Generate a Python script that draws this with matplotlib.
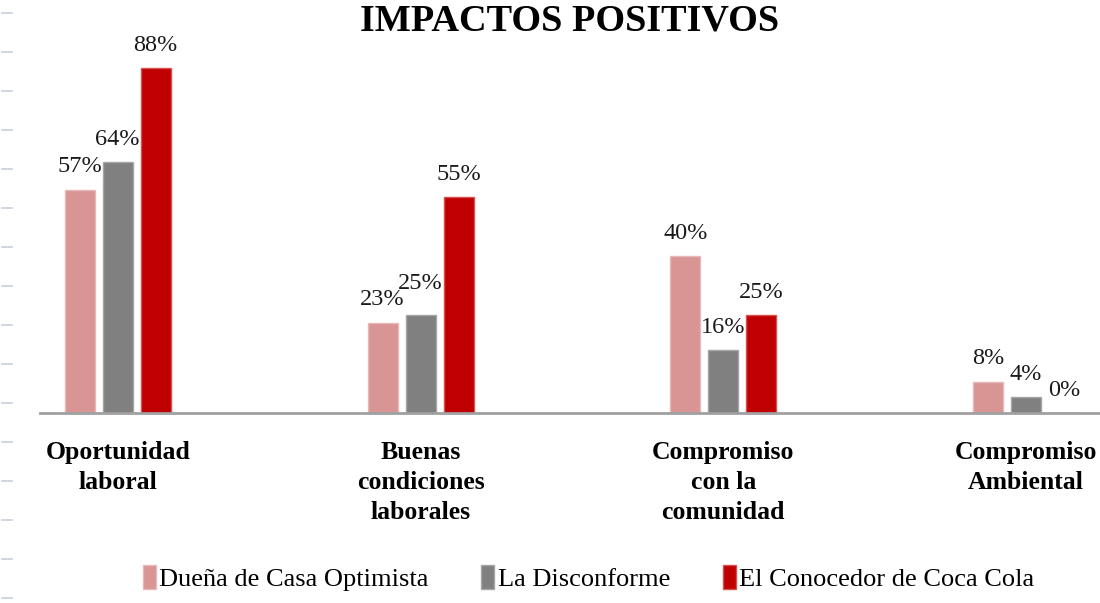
import matplotlib.pyplot as plt
from matplotlib.lines import Line2D
import numpy as np

# Data
categories = ["Oportunidad\nlaboral", "Buenas\ncondiciones\nlaborales",
              "Compromiso\ncon la\ncomunidad", "Compromiso\nAmbiental"]
series_names = ["Dueña de Casa Optimista", "La Disconforme", "El Conocedor de Coca Cola"]
optimista = [57, 23, 40, 8]
disconforme = [64, 25, 16, 4]
conocedor = [88, 55, 25, 0]

colors = ["#D99594", "#808080", "#C00000"]
edges = ["#E6B8B7", "#A6A6A6", "#D95050"]

plt.rcParams['font.family'] = ['Liberation Serif', 'DejaVu Serif']

fig = plt.figure(figsize=(11, 6.03), dpi=100)
ax = fig.add_axes([0.036, 0.315, 0.964, 0.65])

x = np.arange(len(categories))
width = 0.099
step = 0.1255

for i, (vals, name) in enumerate(zip([optimista, disconforme, conocedor], series_names)):
    pos = x + (i - 1) * step
    bars = ax.bar(pos, vals, width, color=colors[i], edgecolor=edges[i],
                  linewidth=1, label=name, zorder=2)
    for xp, v in zip(pos, vals):
        # the 25% label in the second group sits a bit higher in the original
        extra = 6.5 if (i == 1 and v == 25) else 0
        ax.annotate(f"{v}%", (xp, v), xytext=(0, 16.5 + extra),
                    textcoords="offset points", ha="center", va="center",
                    fontsize=17.5, color="#1a1a1a")

ax.set_xlim(-0.258, 3.244)
ax.set_ylim(0, 100)
ax.set_xticks(x)
ax.set_xticklabels(categories, fontsize=18.5, fontweight="bold", linespacing=1.4)
ax.tick_params(axis="x", length=0, pad=20)
ax.set_yticks([])
for s in ["top", "right", "left"]:
    ax.spines[s].set_visible(False)
ax.spines["bottom"].set_color("#A0A0A0")
ax.spines["bottom"].set_linewidth(2)

fig.text(0.518, 0.966, "IMPACTOS POSITIVOS", ha="center", va="center",
         fontsize=27.5, fontweight="bold")

leg = fig.legend(loc="center", bbox_to_anchor=(0.535, 0.041), ncol=3,
                 frameon=False, fontsize=19, handlelength=0.5, handleheight=1.0,
                 handletextpad=0.12, columnspacing=2.0)

# faint marks along the left edge
for yp in np.arange(13, 603, 39):
    fig.add_artist(Line2D([2 / 1100, 12 / 1100], [1 - yp / 603, 1 - yp / 603],
                          color="#C8D0DC", linewidth=1.2, transform=fig.transFigure))

fig.savefig("out.png", dpi=100)
